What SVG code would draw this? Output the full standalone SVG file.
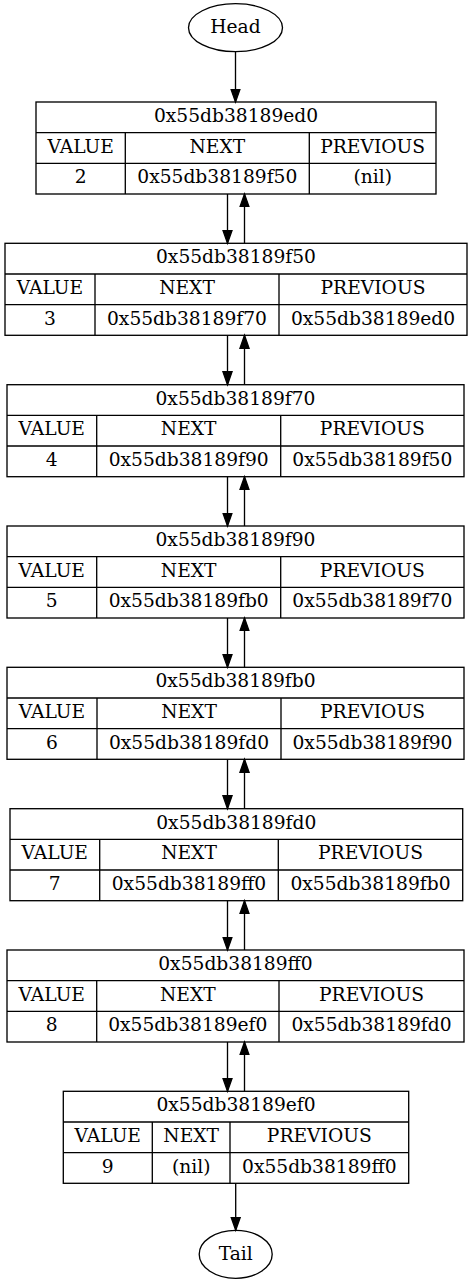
<svg xmlns="http://www.w3.org/2000/svg" width="472" height="1285" viewBox="0 0 472 1285">
  <style>
    .bg { fill: #ffffff; }
    .cell { fill: none; stroke: #000000; stroke-width: 1.33; }
    .oval { fill: none; stroke: #000000; stroke-width: 1.33; }
    .edge { fill: none; stroke: #000000; stroke-width: 1.33; }
    text { font-family: "DejaVu Serif", "Liberation Serif", serif; font-size: 18.67px; fill: #000000; text-anchor: middle; }
  </style>
  <defs>
    <marker id="arrow" markerUnits="userSpaceOnUse" markerWidth="16" markerHeight="12" viewBox="0 -6 16 12" refX="13.3" refY="0" orient="auto">
      <path d="M0,-4.67 L13.3,0 L0,4.67 Z" fill="#000000" stroke="#000000" stroke-width="1.33"/>
    </marker>
  </defs>

  <rect class="bg" x="0" y="0" width="472" height="1285"/>

  <!-- connectors -->
  <g id="edges">
    <line class="edge" x1="235.5" y1="51.7" x2="235.5" y2="102" marker-end="url(#arrow)"/>

    <line class="edge" x1="227.5" y1="194" x2="227.5" y2="243.3" marker-end="url(#arrow)"/>
    <line class="edge" x1="244.5" y1="243.3" x2="244.5" y2="194" marker-end="url(#arrow)"/>

    <line class="edge" x1="227.5" y1="335.3" x2="227.5" y2="384.7" marker-end="url(#arrow)"/>
    <line class="edge" x1="244.5" y1="384.7" x2="244.5" y2="335.3" marker-end="url(#arrow)"/>

    <line class="edge" x1="227.5" y1="476.7" x2="227.5" y2="526" marker-end="url(#arrow)"/>
    <line class="edge" x1="244.5" y1="526" x2="244.5" y2="476.7" marker-end="url(#arrow)"/>

    <line class="edge" x1="227.5" y1="618" x2="227.5" y2="667.3" marker-end="url(#arrow)"/>
    <line class="edge" x1="244.5" y1="667.3" x2="244.5" y2="618" marker-end="url(#arrow)"/>

    <line class="edge" x1="227.5" y1="759.3" x2="227.5" y2="808.7" marker-end="url(#arrow)"/>
    <line class="edge" x1="244.5" y1="808.7" x2="244.5" y2="759.3" marker-end="url(#arrow)"/>

    <line class="edge" x1="227.5" y1="900.7" x2="227.5" y2="950" marker-end="url(#arrow)"/>
    <line class="edge" x1="244.5" y1="950" x2="244.5" y2="900.7" marker-end="url(#arrow)"/>

    <line class="edge" x1="227.5" y1="1042" x2="227.5" y2="1091.3" marker-end="url(#arrow)"/>
    <line class="edge" x1="244.5" y1="1091.3" x2="244.5" y2="1042" marker-end="url(#arrow)"/>

    <line class="edge" x1="235.7" y1="1183.3" x2="235.7" y2="1230.3" marker-end="url(#arrow)"/>
  </g>

  <!-- head / tail markers -->
  <g id="head">
    <ellipse class="oval" cx="235.5" cy="27.7" rx="47" ry="24"/>
    <text x="235.5" y="33.4">Head</text>
  </g>

  <g id="tail">
    <ellipse class="oval" cx="235.7" cy="1254.3" rx="36.5" ry="24"/>
    <text x="235.7" y="1260">Tail</text>
  </g>

  <!-- list entries: header row, field names, field values -->
  <g id="node-ed0" transform="translate(0,102)">
    <rect class="cell" x="36" y="0" width="400" height="92"/>
    <line class="cell" x1="36" y1="30.67" x2="436" y2="30.67"/>
    <line class="cell" x1="36" y1="61.33" x2="436" y2="61.33"/>
    <line class="cell" x1="125.3" y1="30.67" x2="125.3" y2="92"/>
    <line class="cell" x1="309.3" y1="30.67" x2="309.3" y2="92"/>
    <text x="236" y="20">0x55db38189ed0</text>
    <text x="80.7" y="50.7">VALUE</text>
    <text x="217.3" y="50.7">NEXT</text>
    <text x="372.7" y="50.7">PREVIOUS</text>
    <text x="80.7" y="81.3">2</text>
    <text x="217.3" y="81.3">0x55db38189f50</text>
    <text x="372.7" y="81.3">(nil)</text>
  </g>

  <g id="node-f50" transform="translate(0,243.3)">
    <rect class="cell" x="5" y="0" width="462" height="92"/>
    <line class="cell" x1="5" y1="30.67" x2="467" y2="30.67"/>
    <line class="cell" x1="5" y1="61.33" x2="467" y2="61.33"/>
    <line class="cell" x1="95" y1="30.67" x2="95" y2="92"/>
    <line class="cell" x1="279" y1="30.67" x2="279" y2="92"/>
    <text x="236" y="20">0x55db38189f50</text>
    <text x="50" y="50.7">VALUE</text>
    <text x="187" y="50.7">NEXT</text>
    <text x="373" y="50.7">PREVIOUS</text>
    <text x="50" y="81.3">3</text>
    <text x="187" y="81.3">0x55db38189f70</text>
    <text x="373" y="81.3">0x55db38189ed0</text>
  </g>

  <g id="node-f70" transform="translate(0,384.7)">
    <rect class="cell" x="7" y="0" width="457" height="92"/>
    <line class="cell" x1="7" y1="30.67" x2="464" y2="30.67"/>
    <line class="cell" x1="7" y1="61.33" x2="464" y2="61.33"/>
    <line class="cell" x1="96.7" y1="30.67" x2="96.7" y2="92"/>
    <line class="cell" x1="280.7" y1="30.67" x2="280.7" y2="92"/>
    <text x="235.5" y="20">0x55db38189f70</text>
    <text x="51.8" y="50.7">VALUE</text>
    <text x="188.7" y="50.7">NEXT</text>
    <text x="372.3" y="50.7">PREVIOUS</text>
    <text x="51.8" y="81.3">4</text>
    <text x="188.7" y="81.3">0x55db38189f90</text>
    <text x="372.3" y="81.3">0x55db38189f50</text>
  </g>

  <g id="node-f90" transform="translate(0,526)">
    <rect class="cell" x="7" y="0" width="457" height="92"/>
    <line class="cell" x1="7" y1="30.67" x2="464" y2="30.67"/>
    <line class="cell" x1="7" y1="61.33" x2="464" y2="61.33"/>
    <line class="cell" x1="96.7" y1="30.67" x2="96.7" y2="92"/>
    <line class="cell" x1="280.7" y1="30.67" x2="280.7" y2="92"/>
    <text x="235.5" y="20">0x55db38189f90</text>
    <text x="51.8" y="50.7">VALUE</text>
    <text x="188.7" y="50.7">NEXT</text>
    <text x="372.3" y="50.7">PREVIOUS</text>
    <text x="51.8" y="81.3">5</text>
    <text x="188.7" y="81.3">0x55db38189fb0</text>
    <text x="372.3" y="81.3">0x55db38189f70</text>
  </g>

  <g id="node-fb0" transform="translate(0,667.3)">
    <rect class="cell" x="7" y="0" width="457" height="92"/>
    <line class="cell" x1="7" y1="30.67" x2="464" y2="30.67"/>
    <line class="cell" x1="7" y1="61.33" x2="464" y2="61.33"/>
    <line class="cell" x1="97" y1="30.67" x2="97" y2="92"/>
    <line class="cell" x1="281" y1="30.67" x2="281" y2="92"/>
    <text x="235.5" y="20">0x55db38189fb0</text>
    <text x="52" y="50.7">VALUE</text>
    <text x="189" y="50.7">NEXT</text>
    <text x="372.5" y="50.7">PREVIOUS</text>
    <text x="52" y="81.3">6</text>
    <text x="189" y="81.3">0x55db38189fd0</text>
    <text x="372.5" y="81.3">0x55db38189f90</text>
  </g>

  <g id="node-fd0" transform="translate(0,808.7)">
    <rect class="cell" x="10" y="0" width="452.7" height="92"/>
    <line class="cell" x1="10" y1="30.67" x2="462.7" y2="30.67"/>
    <line class="cell" x1="10" y1="61.33" x2="462.7" y2="61.33"/>
    <line class="cell" x1="99.7" y1="30.67" x2="99.7" y2="92"/>
    <line class="cell" x1="278.3" y1="30.67" x2="278.3" y2="92"/>
    <text x="236.3" y="20">0x55db38189fd0</text>
    <text x="54.8" y="50.7">VALUE</text>
    <text x="189" y="50.7">NEXT</text>
    <text x="370.5" y="50.7">PREVIOUS</text>
    <text x="54.8" y="81.3">7</text>
    <text x="189" y="81.3">0x55db38189ff0</text>
    <text x="370.5" y="81.3">0x55db38189fb0</text>
  </g>

  <g id="node-ff0" transform="translate(0,950)">
    <rect class="cell" x="7" y="0" width="457" height="92"/>
    <line class="cell" x1="7" y1="30.67" x2="464" y2="30.67"/>
    <line class="cell" x1="7" y1="61.33" x2="464" y2="61.33"/>
    <line class="cell" x1="96.7" y1="30.67" x2="96.7" y2="92"/>
    <line class="cell" x1="279" y1="30.67" x2="279" y2="92"/>
    <text x="235.5" y="20">0x55db38189ff0</text>
    <text x="51.8" y="50.7">VALUE</text>
    <text x="187.8" y="50.7">NEXT</text>
    <text x="371.5" y="50.7">PREVIOUS</text>
    <text x="51.8" y="81.3">8</text>
    <text x="187.8" y="81.3">0x55db38189ef0</text>
    <text x="371.5" y="81.3">0x55db38189fd0</text>
  </g>

  <g id="node-ef0" transform="translate(0,1091.3)">
    <rect class="cell" x="63.3" y="0" width="345.4" height="92"/>
    <line class="cell" x1="63.3" y1="30.67" x2="408.7" y2="30.67"/>
    <line class="cell" x1="63.3" y1="61.33" x2="408.7" y2="61.33"/>
    <line class="cell" x1="152.3" y1="30.67" x2="152.3" y2="92"/>
    <line class="cell" x1="230" y1="30.67" x2="230" y2="92"/>
    <text x="236" y="20">0x55db38189ef0</text>
    <text x="107.8" y="50.7">VALUE</text>
    <text x="191.2" y="50.7">NEXT</text>
    <text x="319.3" y="50.7">PREVIOUS</text>
    <text x="107.8" y="81.3">9</text>
    <text x="191.2" y="81.3">(nil)</text>
    <text x="319.3" y="81.3">0x55db38189ff0</text>
  </g>
</svg>
